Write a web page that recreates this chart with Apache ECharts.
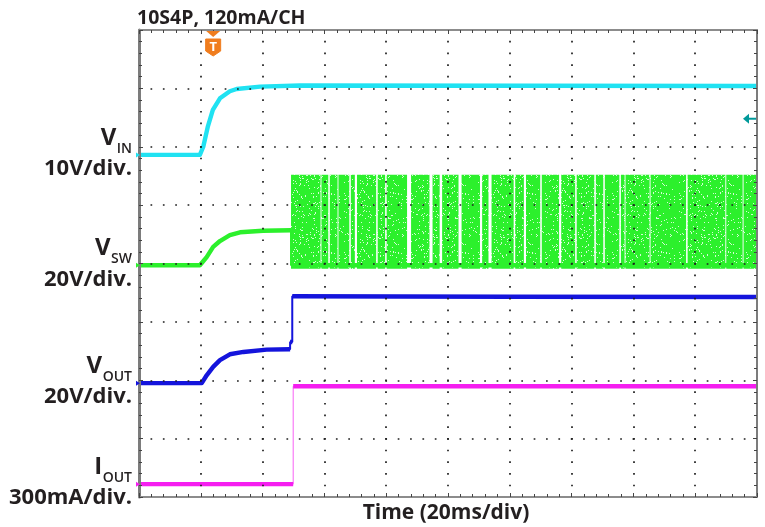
<!DOCTYPE html>
<html>
<head>
<meta charset="utf-8">
<title>10S4P start-up waveforms</title>
<script src="https://cdn.jsdelivr.net/npm/echarts@6.0.0/dist/echarts.min.js"></script>
<style>
  html, body { margin: 0; padding: 0; background: #ffffff; }
  #chart { width: 765px; height: 527px; }
</style>
</head>
<body>
<div id="chart"></div>
<script>
// ---- Scope setup: 10 horizontal divisions at 20 ms/div, 8 vertical divisions ----
const timeRangeMs = [0, 200];
const timePerDivMs = 20;
const verticalDivs = 8;

// Channel settings: units per division and ground level (divisions above the bottom edge)
const channelNames = ['VIN', 'VSW', 'VOUT', 'IOUT'];
const unitsPerDiv = [10, 20, 20, 300];      // V, V, V, mA
const groundDiv = [5.86, 3.97, 1.95, 0.22];

// ---- Captured traces: [time ms, value] ----
const vinTrace = [
  [0, 0], [19.7, 0], [20.8, 1.4], [22.3, 4.9], [23.9, 7.7], [26.2, 9.7],
  [29.4, 10.9], [31.6, 11.3], [39.2, 11.7], [52.1, 11.9], [200, 11.8]
];
const vswTrace = [
  [0, 0], [19.7, 0], [21.9, 2.8], [24.0, 6.3], [26.2, 8.3], [29.4, 10.3],
  [32.7, 11.3], [40.1, 11.8], [49.2, 12.0], [49.2, 0], [200, 0]
];
const voutTrace = [
  [0, 0], [20.3, 0], [21.9, 2.7], [24.0, 5.6], [26.2, 7.9], [29.4, 9.9],
  [33.8, 10.7], [41.3, 11.5], [48.9, 11.6], [48.9, 14.1], [49.6, 14.1],
  [49.6, 29.8], [120, 29.6], [200, 29.5]
];
const ioutTrace = [
  [0, 0], [49.9, 0], [49.9, 503], [200, 503]
];

// Switch-node burst: active window, voltage swing and idle gaps [centre ms, width ms]
const burstWindowMs = [49.2, 200];
const burstSwingV = [-1.2, 31];
const burstGapsMs = [
  [58.9, 0.3], [61.5, 0.5], [64.4, 0.3], [68.3, 0.5], [70.2, 0.7], [77.0, 0.5],
  [79.9, 0.5], [87.4, 1.3], [94.5, 1.0], [97.7, 0.8], [103.9, 1.0], [110.7, 0.7],
  [113.6, 1.0], [121.5, 0.5], [124.9, 0.7], [130.1, 0.5], [136.3, 0.7], [141.4, 0.5],
  [147.6, 0.5], [150.5, 0.5], [155.7, 0.5], [157.3, 0.3], [165.4, 0.3], [177.3, 0.5],
  [189.9, 0.3], [195.5, 0.3]
];

// Trigger: time position and level on VIN
const triggerTimeMs = 24.0;
const triggerLevelV = 6.2;

// ---- Text ----
const titleText = '10S4P, 120mA/CH';
const timeAxisTitle = 'Time (20ms/div)';
const labelSymbol = ['V', 'V', 'V', 'I'];
const labelSub = ['IN', 'SW', 'OUT', 'OUT'];
const labelScale = ['10V/div.', '20V/div.', '20V/div.', '300mA/div.'];

// ---- Styles ----
const traceColors = ['#20e2f2', '#2cf02c', '#1414dc', '#f51ef0'];
const edgeWidths = [2, 2, 2, 1];
const textColor = '#231f20';
const font = '"Open Sans", "DejaVu Sans", sans-serif';

const toDiv = (ch, v) => groundDiv[ch] + v / unitsPerDiv[ch];

// Speckled fill for the dense switching envelope (fixed hashed texture tile)
function speckleTile(color) {
  const w = 67, h = 59;
  const c = document.createElement('canvas');
  c.width = w; c.height = h;
  const g = c.getContext('2d');
  g.fillStyle = color;
  g.fillRect(0, 0, w, h);
  g.fillStyle = 'rgba(255,255,255,0.8)';
  for (let y = 0; y < h; y++) {
    for (let x = 0; x < w; x++) {
      let k = (x * 374761393 + y * 668265263) | 0;
      k = Math.imul(k ^ (k >>> 13), 1274126177);
      k = (k ^ (k >>> 16)) >>> 0;
      if (k % 100 < 6) g.fillRect(x, y, 1, 1);
    }
  }
  return c;
}

// Thick trace with breaks at vertical edges, plus a thin pass that draws the edges
function traceSeries(ch, pts) {
  const conv = pts.map(p => [p[0], toDiv(ch, p[1])]);
  const broken = [];
  conv.forEach((p, i) => {
    if (i > 0 && p[0] === conv[i - 1][0]) broken.push([p[0], '-']);
    broken.push(p);
  });
  const base = {
    type: 'line', showSymbol: false, symbol: 'none', silent: true,
    animation: false, clip: true, z: 1, connectNulls: false
  };
  return [
    Object.assign({}, base, {
      name: channelNames[ch] + ' edge', data: conv,
      lineStyle: { color: traceColors[ch], width: edgeWidths[ch], opacity: ch === 3 ? 0.7 : 1 }
    }),
    Object.assign({}, base, {
      name: channelNames[ch], data: broken,
      lineStyle: { color: traceColors[ch], width: 4.4, join: 'round', cap: 'butt' }
    })
  ];
}

// Active switching intervals between the idle gaps
const burstIntervals = [];
(function () {
  let cur = burstWindowMs[0];
  burstGapsMs.slice().sort((a, b) => a[0] - b[0]).forEach(g => {
    burstIntervals.push([cur, g[0] - g[1] / 2]);
    cur = g[0] + g[1] / 2;
  });
  burstIntervals.push([cur, burstWindowMs[1]]);
})();

const burstFill = { image: speckleTile(traceColors[1]), repeat: 'repeat' };
const burstSeries = {
  type: 'custom', name: 'VSW burst', silent: true, animation: false, clip: true, z: 1,
  data: burstIntervals,
  encode: { x: [0, 1] },
  renderItem: function (params, api) {
    const a = api.coord([api.value(0), toDiv(1, burstSwingV[1])]);
    const b = api.coord([api.value(1), toDiv(1, burstSwingV[0])]);
    return {
      type: 'rect',
      shape: { x: a[0], y: a[1], width: b[0] - a[0], height: b[1] - a[1] },
      style: { fill: burstFill }
    };
  }
};

// Dotted graticule: one dot every 1/5 division
const dotGridX = { color: '#1e1e1e', width: 1.7, type: [1.7, 9.98], dashOffset: 0.85 };
const dotGridY = { color: '#1e1e1e', width: 1.7, type: [1.7, 10.66], dashOffset: 0.85 };

function xAxisDef(pos, showSplit) {
  return {
    type: 'value', position: pos, min: timeRangeMs[0], max: timeRangeMs[1], interval: timePerDivMs,
    zlevel: 1,
    axisLine: { show: true, onZero: false, lineStyle: { color: '#8c8c8c', width: 2 } },
    axisTick: { show: true, inside: true, length: 4, lineStyle: { color: '#444', width: 1 } },
    minorTick: { show: true, splitNumber: 5, length: 3, lineStyle: { color: '#444', width: 1 } },
    axisLabel: { show: false },
    splitLine: { show: showSplit, lineStyle: dotGridX }
  };
}
function yAxisDef(pos, showSplit, lineW) {
  return {
    type: 'value', position: pos, min: 0, max: verticalDivs, interval: 1,
    zlevel: 1,
    axisLine: { show: true, onZero: false, lineStyle: { color: '#7c7c7c', width: lineW } },
    axisTick: { show: true, inside: true, length: 4, lineStyle: { color: '#444', width: 1 } },
    minorTick: { show: true, splitNumber: 5, length: 3, lineStyle: { color: '#444', width: 1 } },
    axisLabel: { show: false },
    splitLine: { show: showSplit, lineStyle: dotGridY }
  };
}

const series = [burstSeries]
  .concat(traceSeries(0, vinTrace))
  .concat(traceSeries(1, vswTrace))
  .concat(traceSeries(2, voutTrace))
  .concat(traceSeries(3, ioutTrace));

const chart = echarts.init(document.getElementById('chart'), null, { renderer: 'canvas' });
chart.setOption({
  backgroundColor: '#ffffff',
  animation: false,
  grid: { left: 139, right: 8, top: 30, bottom: 30, show: false },
  xAxis: [xAxisDef('bottom', true), xAxisDef('top', false)],
  yAxis: [yAxisDef('left', true, 3), yAxisDef('right', false, 2)],
  series: series
});

// ---- Annotations placed through the axes ----
const px = (t, d) => chart.convertToPixel({ gridIndex: 0 }, [t, d]);
const measure = (() => {
  const ctx = document.createElement('canvas').getContext('2d');
  return (txt, f) => { ctx.font = f; return ctx.measureText(txt).width; };
})();

const graphics = [];
const rightEdge = 132;

graphics.push({
  type: 'text', left: 137, top: 8, z: 100, zlevel: 2,
  style: { text: titleText, font: 'bold 19.5px ' + font, fill: textColor }
});
const midX = px((timeRangeMs[0] + timeRangeMs[1]) / 2, 0)[0];
graphics.push({
  type: 'text', x: midX - 2, y: 513, z: 100, zlevel: 2,
  style: { text: timeAxisTitle, font: 'bold 21px ' + font, fill: textColor, align: 'center', verticalAlign: 'middle' }
});

for (let ch = 0; ch < 4; ch++) {
  const gy = px(0, groundDiv[ch])[1];
  const subFont = '600 14px ' + font;
  const subW = measure(labelSub[ch], subFont);
  graphics.push({
    type: 'text', x: rightEdge, y: gy - 6, z: 100, zlevel: 2,
    style: { text: labelSub[ch], font: subFont, fill: textColor, align: 'right', verticalAlign: 'middle' }
  });
  graphics.push({
    type: 'text', x: rightEdge - subW - 0.5, y: gy - 17, z: 100, zlevel: 2,
    style: { text: labelSymbol[ch], font: 'bold 24px ' + font, fill: textColor, align: 'right', verticalAlign: 'middle' }
  });
  graphics.push({
    type: 'text', x: rightEdge, y: gy + 14, z: 100, zlevel: 2,
    style: { text: labelScale[ch], font: 'bold 22px ' + font, fill: textColor, align: 'right', verticalAlign: 'middle' }
  });
  // channel ground marker on the left edge
  graphics.push({
    type: 'polygon', z: 100, zlevel: 2,
    shape: { points: [[136, gy - 2.5], [140, gy], [136, gy + 2.5]] },
    style: { fill: traceColors[ch] }
  });
}

// trigger position marker
const tp = px(triggerTimeMs, verticalDivs);
const orange = '#f07d1e';
graphics.push({
  type: 'polygon', z: 100, zlevel: 2,
  shape: { points: [[tp[0] - 7, tp[1] + 1], [tp[0] + 7, tp[1] + 1], [tp[0], tp[1] + 7]] },
  style: { fill: orange }
});
graphics.push({
  type: 'polygon', z: 100, zlevel: 2,
  shape: { points: [[tp[0] - 7.5, tp[1] + 9], [tp[0] + 7.5, tp[1] + 9], [tp[0] + 7.5, tp[1] + 21],
                    [tp[0], tp[1] + 26], [tp[0] - 7.5, tp[1] + 21]] },
  style: { fill: orange, stroke: orange, lineWidth: 1, lineJoin: 'round' }
});
graphics.push({
  type: 'text', x: tp[0], y: tp[1] + 17, z: 101, zlevel: 2,
  style: { text: 'T', font: 'bold 13px ' + font, fill: '#ffffff', align: 'center', verticalAlign: 'middle' }
});

// trigger level marker on the right edge
const tl = px(timeRangeMs[1], toDiv(0, triggerLevelV));
const teal = '#00999a';
graphics.push({
  type: 'polygon', z: 100, zlevel: 2,
  shape: { points: [[tl[0] - 14, tl[1]], [tl[0] - 8, tl[1] - 5], [tl[0] - 8, tl[1] + 5]] },
  style: { fill: teal }
});
graphics.push({
  type: 'rect', z: 100, zlevel: 2,
  shape: { x: tl[0] - 9, y: tl[1] - 1, width: 8, height: 2 },
  style: { fill: teal }
});

chart.setOption({ graphic: graphics });
</script>
</body>
</html>
